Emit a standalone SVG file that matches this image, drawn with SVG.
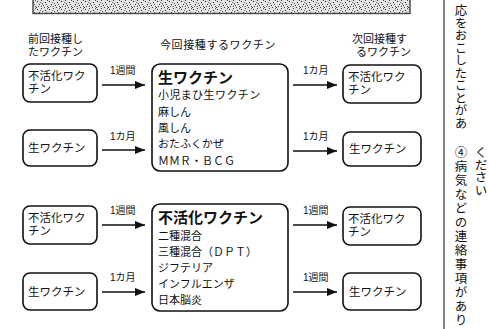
<svg xmlns="http://www.w3.org/2000/svg" width="489" height="329" viewBox="0 0 489 329">
<defs>
<pattern id="stip" width="12" height="8" patternUnits="userSpaceOnUse">
<rect width="12" height="8" fill="#e4e4e4"/>
<rect x="1" y="1" width="1" height="1" fill="#222"/>
<rect x="5" y="0" width="1" height="1" fill="#444"/>
<rect x="9" y="2" width="1" height="1" fill="#222"/>
<rect x="3" y="4" width="1" height="1" fill="#333"/>
<rect x="7" y="5" width="1" height="1" fill="#222"/>
<rect x="11" y="6" width="1" height="1" fill="#444"/>
<rect x="0" y="7" width="1" height="1" fill="#333"/>
<rect x="6" y="3" width="1" height="1" fill="#555"/>
<rect x="10" y="4" width="1" height="1" fill="#666"/>
<rect x="2" y="6" width="1" height="1" fill="#555"/>
<rect x="8" y="7" width="1" height="1" fill="#444"/>
<rect x="4" y="2" width="1" height="1" fill="#666"/>
<rect x="11" y="0" width="1" height="1" fill="#555"/>
<rect x="5" y="6" width="1" height="1" fill="#666"/>
</pattern>
<marker id="ah" viewBox="0 0 10 8" refX="10" refY="4" markerWidth="10" markerHeight="8" markerUnits="userSpaceOnUse" orient="auto">
<path d="M0,0 L10,4 L0,8 Z" fill="#111"/>
</marker>
</defs>
<style>
.t{font-family:"Liberation Sans","Noto Sans CJK JP",sans-serif;fill:#111}
.hd{font-size:11px}
.bx{font-size:11.5px}
.lb{font-size:10px}
.it{font-size:11px}
.ti{font-size:15px;font-weight:bold}
.node{fill:#fff;stroke:#111;stroke-width:1.6}
.con{stroke:#111;stroke-width:1.3;fill:none;marker-end:url(#ah)}
.vt{font-family:"Noto Sans CJK JP",sans-serif;fill:#111;writing-mode:vertical-rl;font-size:12.5px}
</style>
<rect width="489" height="329" fill="#fff"/>
<g id="banner">
<rect x="33" y="-4" width="377" height="17.5" fill="url(#stip)" stroke="#444" stroke-width="1.4"/>
</g>
<g id="headers">
<text class="t hd" x="28" y="43">前回接種し</text>
<text class="t hd" x="28" y="55.5">たワクチン</text>
<text class="t hd" x="160" y="49" style="letter-spacing:0.6px">今回接種するワクチン</text>
<text class="t hd" x="352" y="43">次回接種す</text>
<text class="t hd" x="356" y="55.5">るワクチン</text>
</g>
<g id="connectors">
<path class="con" d="M102,85 H145"/>
<path class="con" d="M102,150 H145"/>
<path class="con" d="M293,85 H337"/>
<path class="con" d="M293,151 H337"/>
<path class="con" d="M102,225 H145"/>
<path class="con" d="M102,292 H145"/>
<path class="con" d="M293,225 H337"/>
<path class="con" d="M293,292 H337"/>
<text class="t lb" x="110" y="74">1週間</text>
<text class="t lb" x="110" y="140">1カ月</text>
<text class="t lb" x="303" y="74">1カ月</text>
<text class="t lb" x="303" y="140">1カ月</text>
<text class="t lb" x="110" y="214">1週間</text>
<text class="t lb" x="110" y="281">1カ月</text>
<text class="t lb" x="303" y="214">1週間</text>
<text class="t lb" x="303" y="281">1週間</text>
</g>
<g id="prev-inact-1">
<rect class="node" x="23" y="64" width="74" height="38" rx="7"/>
<text class="t bx" x="28" y="80">不活化ワク</text>
<text class="t bx" x="28" y="93">チン</text>
</g>
<g id="prev-live-1">
<rect class="node" x="23" y="130" width="74" height="36" rx="7"/>
<text class="t bx" x="28" y="152">生ワクチン</text>
</g>
<g id="live-vaccines">
<rect class="node" x="152" y="64" width="136" height="107" rx="8"/>
<text class="t ti" x="158" y="83">生ワクチン</text>
<text class="t it" x="158" y="99" style="letter-spacing:0.4px">小児まひ生ワクチン</text>
<text class="t it" x="158" y="116">麻しん</text>
<text class="t it" x="158" y="132">風しん</text>
<text class="t it" x="158" y="148">おたふくかぜ</text>
<text class="t it" x="158" y="165">ＭＭＲ・ＢＣＧ</text>
</g>
<g id="next-inact-1">
<rect class="node" x="343" y="65" width="78" height="38" rx="7"/>
<text class="t bx" x="348" y="81">不活化ワク</text>
<text class="t bx" x="348" y="94">チン</text>
</g>
<g id="next-live-1">
<rect class="node" x="343" y="132" width="78" height="34" rx="7"/>
<text class="t bx" x="349" y="153">生ワクチン</text>
</g>
<g id="prev-inact-2">
<rect class="node" x="23" y="206" width="74" height="38" rx="7"/>
<text class="t bx" x="28" y="222">不活化ワク</text>
<text class="t bx" x="28" y="235">チン</text>
</g>
<g id="prev-live-2">
<rect class="node" x="23" y="273" width="74" height="37" rx="7"/>
<text class="t bx" x="28" y="296">生ワクチン</text>
</g>
<g id="inactivated-vaccines">
<rect class="node" x="152" y="204" width="136" height="107" rx="8"/>
<text class="t ti" x="158" y="223">不活化ワクチン</text>
<text class="t it" x="158" y="240">二種混合</text>
<text class="t it" x="158" y="256">三種混合（ＤＰＴ）</text>
<text class="t it" x="158" y="272">ジフテリア</text>
<text class="t it" x="158" y="288">インフルエンザ</text>
<text class="t it" x="158" y="304">日本脳炎</text>
</g>
<g id="next-inact-2">
<rect class="node" x="343" y="207" width="78" height="38" rx="7"/>
<text class="t bx" x="348" y="223">不活化ワク</text>
<text class="t bx" x="348" y="236">チン</text>
</g>
<g id="next-live-2">
<rect class="node" x="343" y="273" width="78" height="37" rx="7"/>
<text class="t bx" x="349" y="296">生ワクチン</text>
</g>
<g id="side-column">
<line x1="444" y1="0" x2="444" y2="329" stroke="#333" stroke-width="1.2"/>
<text class="vt" x="461" y="4">応をおこしたことがあ</text>
<text class="vt" x="461" y="146" style="letter-spacing:1.5px">④病気などの連絡事項があり</text>
<text class="vt" x="481" y="146">ください</text>
</g>
</svg>
